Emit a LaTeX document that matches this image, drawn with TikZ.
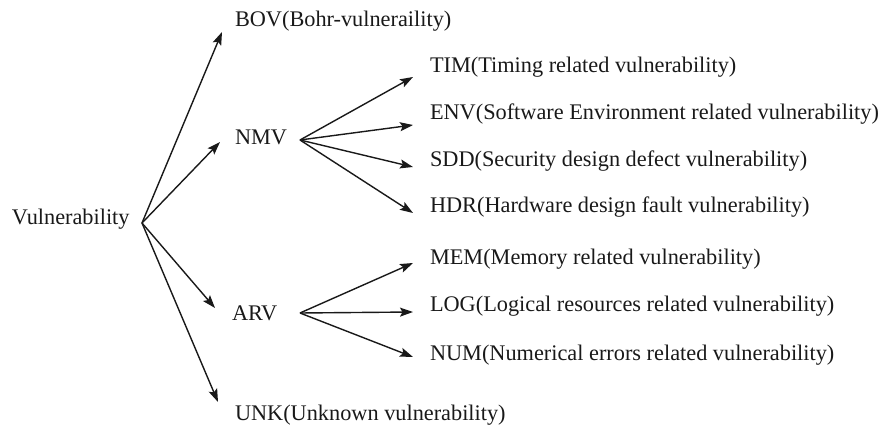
\documentclass[tikz,border=0pt]{standalone}
\usepackage{fontspec}
\setmainfont{Liberation Serif}
\usetikzlibrary{arrows.meta}
\begin{document}
\begin{tikzpicture}[x=1pt,y=-1pt,
  lbl/.style={anchor=base west,inner sep=0pt,outer sep=0pt,
    font=\fontsize{22.3}{24}\selectfont,text=black!90},
  arr/.style={draw=black!90,line width=1.4pt,
    -{Stealth[length=13pt,width=9pt,inset=2.5pt]}}]
\useasboundingbox (0,0) rectangle (881,430);

% labels
\node[lbl] (vul) at (12,225) {Vulnerability};
\node[lbl] (bov) at (235,27) {BOV(Bohr-vulneraility)};
\node[lbl] (nmv) at (235,145) {NMV};
\node[lbl] (arv) at (232,320) {ARV};
\node[lbl] (unk) at (235,420) {UNK(Unknown vulnerability)};
\node[lbl] (tim) at (430,73) {TIM(Timing related vulnerability)};
\node[lbl] (env) at (430,120) {ENV(Software Environment related vulnerability)};
\node[lbl] (sdd) at (430,167) {SDD(Security design defect vulnerability)};
\node[lbl] (hdr) at (430,213) {HDR(Hardware design fault vulnerability)};
\node[lbl] (mem) at (430,265) {MEM(Memory related vulnerability)};
\node[lbl] (log) at (430,312) {LOG(Logical resources related vulnerability)};
\node[lbl] (num) at (430,360) {NUM(Numerical errors related vulnerability)};

% branching points and arrow ends
\coordinate (vul-out) at (142,223);
\coordinate (nmv-out) at (300,140);
\coordinate (arv-out) at (300,313);
\coordinate (bov-in) at (222,32);
\coordinate (nmv-in) at (220,142);
\coordinate (arv-in) at (215,308);
\coordinate (unk-in) at (218,402);
\coordinate (tim-in) at (413,77);
\coordinate (env-in) at (413,125);
\coordinate (sdd-in) at (413,167);
\coordinate (hdr-in) at (413,213);
\coordinate (mem-in) at (413,263);
\coordinate (log-in) at (413,312);
\coordinate (num-in) at (413,357);

% connectors
\foreach \t in {bov,nmv,arv,unk}
  \draw[arr] (vul-out) -- (\t-in);
\foreach \t in {tim,env,sdd,hdr}
  \draw[arr] (nmv-out) -- (\t-in);
\foreach \t in {mem,log,num}
  \draw[arr] (arv-out) -- (\t-in);
\end{tikzpicture}
\end{document}
